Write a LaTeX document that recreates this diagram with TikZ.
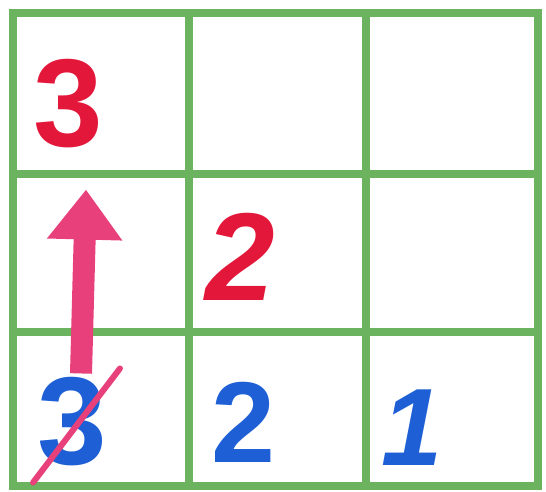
\documentclass[tikz,border=0pt]{standalone}
\usepackage{fontspec}
\setmainfont{Liberation Sans}
\usetikzlibrary{arrows.meta}
\definecolor{grid}{HTML}{6BB35E}
\definecolor{pen}{HTML}{E3173A}
\definecolor{ink}{HTML}{1E5FD6}
\definecolor{marker}{HTML}{E8407A}
\tikzset{
  gridline/.style={draw=grid, line width=8pt},
  digit/.style={text=#1, inner sep=0pt, font=\fontsize{125}{125}\selectfont\bfseries},
  slant/.style={digit=#1, font=\fontsize{125}{125}\selectfont\bfseries\itshape},
  carry/.style={draw=marker, line width=22pt, -{Triangle[length=50pt,width=72pt]}},
  strike/.style={draw=marker, line width=6pt, line cap=round}
}

\begin{document}
\begin{tikzpicture}[x=1pt, y=-1pt]
  \useasboundingbox (0,0) rectangle (546,491);
  % the 3x3 board
  \draw[gridline] (13,13) rectangle (538,486);
  \foreach \x in {189,366} \draw[gridline] (\x,13) -- (\x,486);
  \foreach \y in {174,332} \draw[gridline] (13,\y) -- (538,\y);

  \node[digit=pen] (r3) at (68,104) {3};
  \node[slant=pen] (r2) at (240,257) {2};
  \node[digit=ink] (b3) at (72,422) {3};
  \node[digit=ink, font=\fontsize{115}{115}\selectfont\bfseries] (b2) at (243,422) {2};
  \node[slant=ink, font=\fontsize{110}{110}\selectfont\bfseries\itshape] (b1) at (412,428) {1};

  \draw[carry] ([shift={(9pt,4pt)}]b3.north) -- ([shift={(18pt,-41pt)}]r3.south);
  \draw[strike] ([shift={(-4pt,-16pt)}]b3.south west) -- ([shift={(13pt,9pt)}]b3.north east);
\end{tikzpicture}
\end{document}
